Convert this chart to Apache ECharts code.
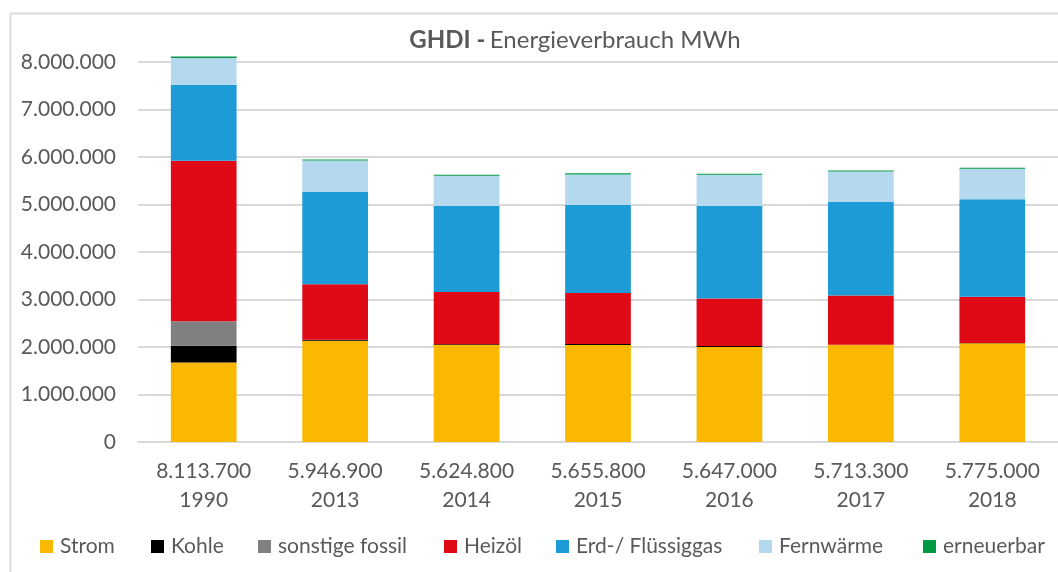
<!DOCTYPE html>
<html>
<head>
<meta charset="utf-8">
<script src="https://cdn.jsdelivr.net/npm/echarts@6/dist/echarts.min.js"></script>
<style>
  html, body { margin: 0; padding: 0; background: #fff; }
  #main { width: 1058px; height: 572px; }
</style>
</head>
<body>
<div id="main"></div>
<script>
// Jahre und Summen (Achsenbeschriftung)
const years = ['1990', '2013', '2014', '2015', '2016', '2017', '2018']
const totals = [8113700, 5946900, 5624800, 5655800, 5647000, 5713300, 5775000]

// Energieträger in MWh
const strom = [1675000, 2130000, 2040000, 2040000, 2000000, 2045000, 2080000]
const kohle = [350000, 25000, 20000, 25000, 20000, 5000, 5000]
const sonstigeFossil = [515000, 0, 0, 0, 0, 0, 0]
const heizoel = [3380000, 1165000, 1100000, 1070000, 1000000, 1035000, 975000]
const erdgas = [1600000, 1950000, 1810000, 1855000, 1950000, 1970000, 2050000]
const fernwaerme = [565000, 655000, 635000, 640000, 655000, 640000, 645000]
const erneuerbar = [28700, 21900, 19800, 25800, 22000, 18300, 20000]

const yTicks = [0, 1000000, 2000000, 3000000, 4000000, 5000000, 6000000, 7000000, 8000000]

const fmt = (v) => String(v).replace(/\B(?=(\d{3})+(?!\d))/g, '.')

const seriesDef = [
    ['Strom', strom, '#FAB800'],
    ['Kohle', kohle, '#000000'],
    ['sonstige fossil', sonstigeFossil, '#808080'],
    ['Heizöl', heizoel, '#E00A16'],
    ['Erd-/ Flüssiggas', erdgas, '#1D9BD7'],
    ['Fernwärme', fernwaerme, '#B4D8EE'],
    ['erneuerbar', erneuerbar, '#009A44'],
]

const legendLeft = [40, 151, 258, 444, 556, 759, 923]
const font = 'Lato, "Open Sans", sans-serif'
const grey = '#595959'

const myChart = echarts.init(document.getElementById('main'))

const option = {
    animation: false,
    textStyle: { fontFamily: font },
    graphic: [{
        type: 'rect',
        left: 8,
        top: 11,
        shape: { width: 1070, height: 580 },
        style: { fill: 'none', stroke: '#d9d9d9', lineWidth: 2 },
        silent: true,
    }],
    title: {
        left: 570,
        top: 23,
        textAlign: 'center',
        text: '{b|GHDI -} {n|Energieverbrauch MWh}',
        textStyle: {
            rich: {
                b: { fontFamily: font, fontSize: 24, fontWeight: 'bold', color: grey },
                n: { fontFamily: font, fontSize: 24, fontWeight: 'normal', color: grey },
            },
        },
    },
    legend: seriesDef.map((s, i) => ({
        data: [s[0]],
        left: legendLeft[i],
        top: 536,
        itemWidth: 13,
        itemHeight: 13,
        itemGap: 0,
        icon: 'rect',
        padding: 0,
        textStyle: { fontFamily: font, fontSize: 21, color: grey, padding: [0, 0, 0, 2] },
    })),
    grid: {
        left: 138,
        right: -4,
        top: 62,
        bottom: 130,
        containLabel: false,
    },
    xAxis: {
        type: 'category',
        data: years,
        axisLine: { lineStyle: { color: '#d9d9d9', width: 2 } },
        axisTick: { show: false },
        axisLabel: {
            margin: 15,
            fontSize: 21,
            lineHeight: 29,
            color: grey,
            fontFamily: font,
            formatter: (v, i) => fmt(totals[i]) + '\n' + v,
        },
    },
    yAxis: {
        type: 'value',
        min: yTicks[0],
        max: yTicks[yTicks.length - 1],
        interval: yTicks[1] - yTicks[0],
        axisLine: { show: false },
        axisTick: { show: false },
        splitLine: { lineStyle: { color: '#d9d9d9', width: 2 } },
        axisLabel: {
            margin: 22,
            fontSize: 21,
            color: grey,
            fontFamily: font,
            formatter: (v) => fmt(v),
        },
    },
    series: seriesDef.map((s) => ({
        name: s[0],
        type: 'bar',
        stack: 'total',
        data: s[1],
        barWidth: '50%',
        clip: false,
        itemStyle: { color: s[2] },
    })),
}

myChart.setOption(option)
</script>
</body>
</html>
